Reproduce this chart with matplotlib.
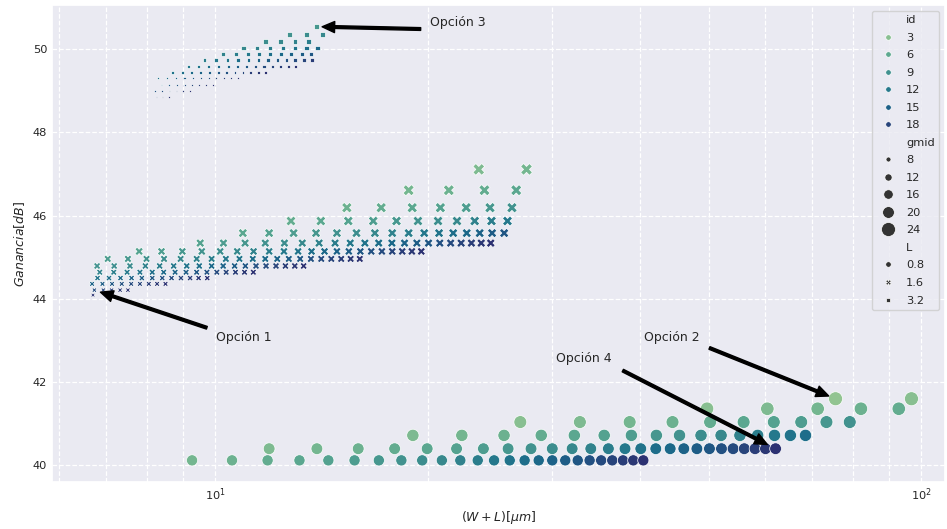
import matplotlib
matplotlib.use("Agg")
import matplotlib.pyplot as plt
from matplotlib.colors import Normalize
from matplotlib.lines import Line2D
import seaborn as sns

sns.set_theme(style="darkgrid")
plt.rcParams['font.family'] = ['DejaVu Sans']

# drain current levels of the sweep (same grid for every row)
ID_LEVELS = [1.00, 1.66, 2.31, 2.97, 3.62, 4.28, 4.93, 5.59, 6.24, 6.90,
             7.55, 8.21, 8.86, 9.52, 10.17, 10.83, 11.48, 12.14, 12.79, 13.45,
             14.10, 14.76, 15.41, 16.07, 16.72, 17.38, 18.03, 18.69, 19.34, 20.00]

# ---- L = 0.8 um ----
GMID_L08 = [19, 20, 21, 22, 23, 24]
GAIN_L08 = [40.12, 40.40, 40.72, 41.04, 41.36, 41.60]
START_L08 = [5, 4, 4, 3, 3, 2]
WL_L08 = [
    [9.27, 10.56, 11.86, 13.16, 14.46, 15.75, 17.05, 18.35, 19.64, 20.94,
     22.24, 23.54, 24.83, 26.13, 27.43, 28.72, 30.02, 31.32, 32.62, 33.91,
     35.21, 36.51, 37.81, 39.10, 40.40],
    [11.92, 13.93, 15.94, 17.95, 19.96, 21.97, 23.98, 25.99, 28.01, 30.02,
     32.03, 34.04, 36.05, 38.06, 40.07, 42.08, 44.10, 46.11, 48.12, 50.13,
     52.14, 54.15, 56.16, 58.17, 60.19, 62.20],
    [19.05, 22.35, 25.65, 28.96, 32.26, 35.56, 38.86, 42.16, 45.47, 48.77,
     52.07, 55.37, 58.67, 61.98, 65.28, 68.58],
    [27.05, 32.85, 38.64, 44.44, 50.24, 56.04, 61.84, 67.63, 73.43, 79.23],
    [49.74, 60.55, 71.36, 82.17, 92.97],
    [75.64, 96.90],
]

# ---- L = 1.6 um ----
GMID_L16 = [7, 8, 9, 10, 11, 12, 13, 14, 15, 16, 17, 18, 19, 20]
GAIN_L16 = [44.09, 44.21, 44.36, 44.50, 44.64, 44.79, 44.96,
            45.14, 45.34, 45.58, 45.87, 46.19, 46.61, 47.11]
START_L16 = [29, 25, 21, 18, 15, 12, 10, 9, 9, 8, 7, 6, 5, 4]
WL_L16 = [
    [6.71],
    [6.74, 6.94, 7.13, 7.33, 7.52],
    [6.69, 6.92, 7.14, 7.37, 7.60, 7.82, 8.05, 8.27, 8.50],
    [6.81, 7.07, 7.34, 7.61, 7.87, 8.14, 8.41, 8.67, 8.94, 9.21, 9.47, 9.74],
    [6.86, 7.18, 7.50, 7.82, 8.14, 8.45, 8.77, 9.09, 9.41, 9.73, 10.05,
     10.36, 10.68, 11.00, 11.32],
    [6.80, 7.19, 7.57, 7.96, 8.34, 8.73, 9.11, 9.49, 9.88, 10.26, 10.65,
     11.03, 11.42, 11.80, 12.19, 12.57, 12.96, 13.34],
    [7.04, 7.52, 7.99, 8.46, 8.93, 9.41, 9.88, 10.35, 10.82, 11.30, 11.77,
     12.24, 12.71, 13.19, 13.66, 14.13, 14.60, 15.08, 15.55, 16.02],
    [7.80, 8.39, 8.98, 9.57, 10.16, 10.74, 11.33, 11.92, 12.51, 13.10, 13.69,
     14.28, 14.87, 15.46, 16.05, 16.63, 17.22, 17.81, 18.40, 18.99, 19.58],
    [9.52, 10.27, 11.02, 11.77, 12.53, 13.28, 14.03, 14.78, 15.53, 16.29,
     17.04, 17.79, 18.54, 19.30, 20.05, 20.80, 21.55, 22.30, 23.06, 23.81, 24.56],
    [10.94, 11.92, 12.91, 13.89, 14.87, 15.85, 16.83, 17.81, 18.79, 19.77,
     20.75, 21.73, 22.71, 23.69, 24.67, 25.66],
    [12.80, 14.11, 15.43, 16.74, 18.06, 19.37, 20.68, 22.00, 23.31, 24.62, 25.94],
    [15.36, 17.18, 19.01, 20.84, 22.67, 24.50, 26.32],
    [18.79, 21.42, 24.06, 26.69],
    [23.62, 27.60],
]

# ---- L = 3.2 um ----
GMID_L32 = [2, 3, 4, 5, 6, 7, 8, 9, 10, 11, 12, 13]
GAIN_L32 = [48.85, 49.00, 49.14, 49.30, 49.44, 49.58,
            49.74, 49.88, 50.03, 50.19, 50.36, 50.54]
START_L32 = [27, 24, 22, 19, 18, 17, 16, 15, 14, 13, 12, 11]
WL_L32 = [
    [8.25, 8.42, 8.60],
    [8.22, 8.41, 8.61, 8.81, 9.00, 9.20],
    [8.39, 8.61, 8.83, 9.05, 9.27, 9.49, 9.71, 9.93],
    [8.30, 8.55, 8.79, 9.04, 9.29, 9.54, 9.79, 10.03, 10.28, 10.53, 10.78],
    [8.69, 8.98, 9.26, 9.54, 9.82, 10.10, 10.38, 10.66, 10.95, 11.23, 11.51, 11.79],
    [9.15, 9.47, 9.79, 10.11, 10.43, 10.75, 11.07, 11.39, 11.72, 12.04, 12.36,
     12.68, 13.00],
    [9.66, 10.03, 10.40, 10.77, 11.14, 11.51, 11.88, 12.25, 12.62, 12.98,
     13.35, 13.72],
    [10.26, 10.69, 11.11, 11.54, 11.97, 12.40, 12.82, 13.25, 13.68],
    [10.96, 11.46, 11.96, 12.46, 12.96, 13.46, 13.96],
    [11.78, 12.38, 12.97, 13.56],
    [12.75, 13.46, 14.17],
    [13.91],
]

L_VALUES = [0.8, 1.6, 3.2]
L_MARKERS = ['o', 'X', (4, 0, 45)]

ID_TICKS = [3, 6, 9, 12, 15, 18]
GMID_TICKS = [8, 12, 16, 20, 24]

cmap = sns.color_palette("crest", as_cmap=True)
norm = Normalize(vmin=min(ID_LEVELS), vmax=max(ID_LEVELS))


def marker_pts(gmid):
    # marker diameter in points, growing with gm/Id
    return 3.6 + 0.405 * (gmid - 8)


fig = plt.figure(figsize=(9.47, 5.29), dpi=100)
ax = fig.add_axes([52 / 947, 47 / 529, 893 / 947, 477 / 529])
ax.set_xscale('log')

groups = [
    (GMID_L08, GAIN_L08, START_L08, WL_L08),
    (GMID_L16, GAIN_L16, START_L16, WL_L16),
    (GMID_L32, GAIN_L32, START_L32, WL_L32),
]
for (gmids, gains, starts, rows), marker in zip(groups, L_MARKERS):
    xs, ys, cs, ss = [], [], [], []
    for g, gain, k0, row in zip(gmids, gains, starts, rows):
        ids = ID_LEVELS[k0:k0 + len(row)]
        xs += row
        ys += [gain] * len(row)
        cs += [cmap(norm(i)) for i in ids]
        ss += [marker_pts(g) ** 2] * len(row)
    ax.scatter(xs, ys, s=ss, c=cs, marker=marker,
               edgecolors='white', linewidths=0.5, zorder=2)

ax.set_xlim(5.87, 108.1)
ax.set_ylim(39.6, 51.06)
ax.grid(True, which='both', linestyle='--', color='white', linewidth=0.9)
ax.tick_params(axis='both', which='both', labelsize=8.2, length=0)
ax.set_xlabel(r'$(W+L)[\mu m]$', fontsize=9)
ax.set_ylabel(r'$Ganancia[dB]$', fontsize=9)

arrow = dict(facecolor='black', edgecolor='black', shrink=0.05,
             width=2, headwidth=8, headlength=9)
ax.annotate('Opción 3', xy=(13.91, 50.54), xytext=(20.12, 50.55),
            fontsize=9, arrowprops=arrow)
ax.annotate('Opción 1', xy=(6.74, 44.21), xytext=(10.03, 42.99),
            fontsize=9, arrowprops=arrow)
ax.annotate('Opción 2', xy=(75.64, 41.60), xytext=(40.46, 42.99),
            fontsize=9, arrowprops=arrow)
ax.annotate('Opción 4', xy=(62.20, 40.40), xytext=(30.36, 42.49),
            fontsize=9, arrowprops=arrow)

# legend: hue (id), size (gmid) and style (L) sections
handles, labels = [], []


def blank():
    return Line2D([], [], linestyle='none')


handles.append(blank())
labels.append('id')
for v in ID_TICKS:
    handles.append(Line2D([], [], linestyle='none', marker='o', markersize=4,
                          markerfacecolor=cmap(norm(v)), markeredgecolor='white',
                          markeredgewidth=0.5))
    labels.append(str(v))
handles.append(blank())
labels.append('gmid')
for v in GMID_TICKS:
    handles.append(Line2D([], [], linestyle='none', marker='o', markersize=marker_pts(v),
                          markerfacecolor='.2', markeredgecolor='white',
                          markeredgewidth=0.5))
    labels.append(str(v))
handles.append(blank())
labels.append('L')
for v, m in zip(L_VALUES, L_MARKERS):
    handles.append(Line2D([], [], linestyle='none', marker=m, markersize=4,
                          markerfacecolor='.2', markeredgecolor='white',
                          markeredgewidth=0.5))
    labels.append(str(v))

ax.legend(handles, labels, loc='upper right', fontsize=8.2, labelspacing=0.66,
          handletextpad=0.6)

fig.savefig('out.png', dpi=100)
